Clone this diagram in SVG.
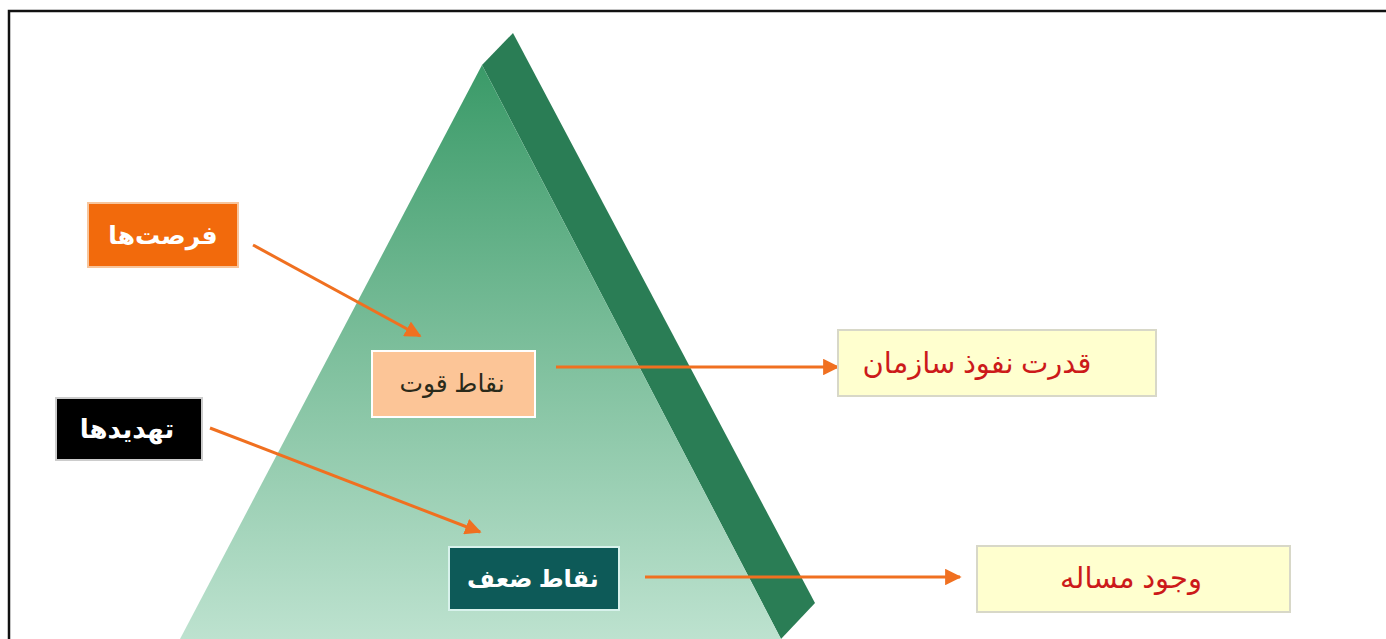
<svg xmlns="http://www.w3.org/2000/svg" width="1386" height="639" viewBox="0 0 1386 639">
<defs>
<linearGradient id="front" x1="0" y1="0" x2="0" y2="1">
<stop offset="0" stop-color="#3a9a68"/>
<stop offset="0.5" stop-color="#7dbf9c"/>
<stop offset="1" stop-color="#bde2cf"/>
</linearGradient>
<marker id="ah" viewBox="0 0 10 10" refX="9" refY="5" markerWidth="5.5" markerHeight="5.5" orient="auto" markerUnits="strokeWidth">
<path d="M0,0 L10,5 L0,10 z" fill="#f07020"/>
</marker>
<style>
.arr{stroke:#f07020;stroke-width:3;fill:none;marker-end:url(#ah)}
.t{font-family:"Noto Sans","DejaVu Sans",sans-serif;font-weight:bold;text-anchor:middle;direction:rtl}
.n{font-family:"Noto Sans","DejaVu Sans",sans-serif;font-weight:normal;text-anchor:middle;direction:rtl}
</style>
</defs>
<rect width="1386" height="639" fill="#ffffff"/>
<path d="M9,639 V11 H1386" fill="none" stroke="#111" stroke-width="2.5"/>
<g id="pyramid">
<polygon points="482,65 513,33 815,603 781,639" fill="#2a7d55"/>
<polygon points="482,65 781,639 180,639" fill="url(#front)"/>
</g>
<g id="connectors">
<line class="arr" x1="253" y1="245" x2="420" y2="336"/>
<line class="arr" x1="556" y1="367" x2="838" y2="367"/>
<line class="arr" x1="210" y1="428" x2="480" y2="532"/>
<line class="arr" x1="645" y1="577" x2="960" y2="577"/>
</g>
<g id="opportunities">
<rect x="88" y="203" width="150" height="64" fill="#f26a0c" stroke="#f7c59c" stroke-width="2"/>
<text class="t" x="163" y="244" font-size="25" fill="#ffffff">فرصت‌ها</text>
</g>
<g id="strengths">
<rect x="372" y="351" width="163" height="66" fill="#fcc597" stroke="#ffffff" stroke-width="2"/>
<text class="n" x="452" y="392" font-size="25" fill="#2a2a1a">نقاط قوت</text>
</g>
<g id="threats">
<rect x="56" y="398" width="146" height="62" fill="#000000" stroke="#cccccc" stroke-width="2"/>
<text class="t" x="127" y="438" font-size="26" fill="#ffffff">تهدیدها</text>
</g>
<g id="weaknesses">
<rect x="449" y="547" width="170" height="63" fill="#0d5a58" stroke="#d8f2ec" stroke-width="2"/>
<text class="t" x="533" y="587" font-size="24" fill="#ffffff">نقاط ضعف</text>
</g>
<g id="influence">
<rect x="838" y="330" width="318" height="66" fill="#ffffcf" stroke="#d8d8c8" stroke-width="2"/>
<text class="n" x="977" y="373" font-size="29" fill="#cc1a1a">قدرت نفوذ سازمان</text>
</g>
<g id="problem">
<rect x="977" y="546" width="313" height="66" fill="#ffffcf" stroke="#d8d8c8" stroke-width="2"/>
<text class="n" x="1131" y="588" font-size="29" fill="#cc1a1a">وجود مساله</text>
</g>
</svg>
